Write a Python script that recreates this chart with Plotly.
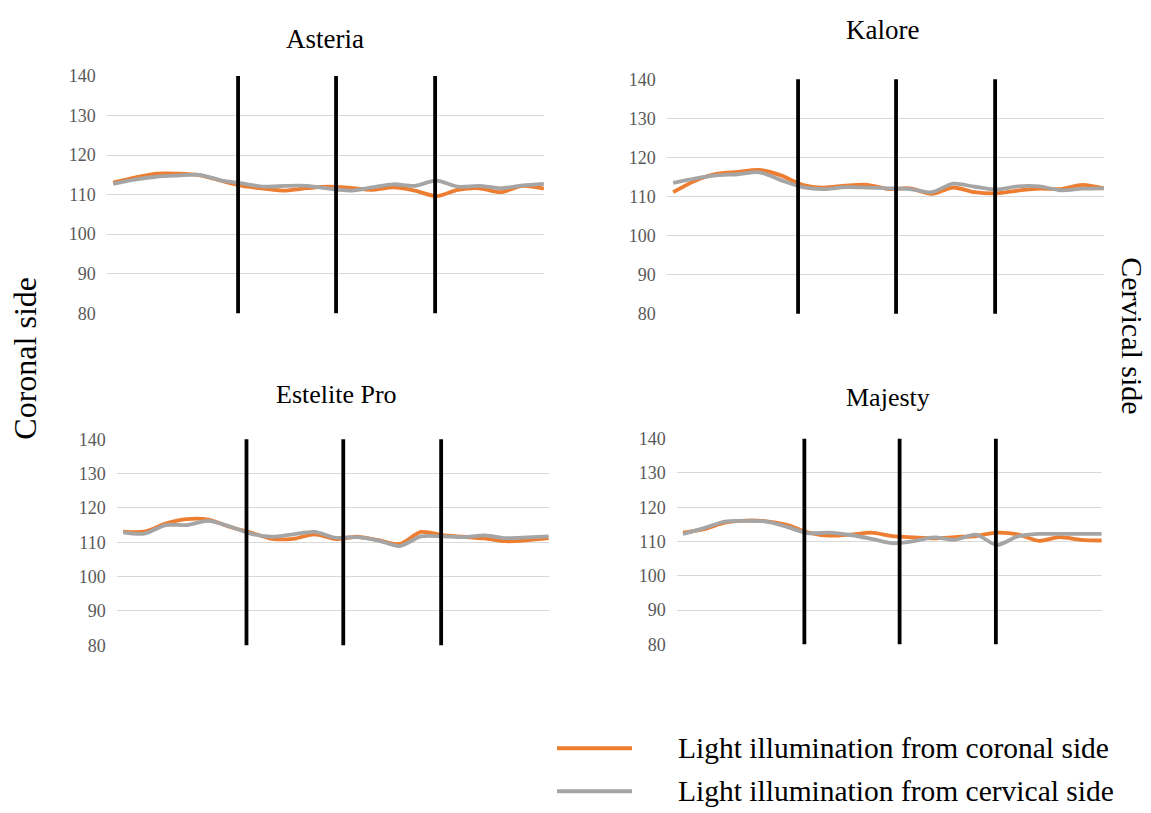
import plotly.graph_objects as go

W, H = 1151, 813

# ---- data ----
positions = list(range(21))  # measurement points along the restoration
boundaries = [5.8, 10.35, 14.95]  # black dividing lines (in position units)
y_ticks = [80, 90, 100, 110, 120, 130, 140]

materials = ["Asteria", "Kalore", "Estelite Pro", "Majesty"]

asteria_coronal = [113.0, 114.3, 115.3, 115.3, 114.9, 113.5, 112.2, 111.5, 111.0, 111.6, 112.0,
                   111.7, 111.2, 111.8, 111.0, 109.6, 111.2, 111.6, 110.6, 112.2, 111.5]
asteria_cervical = [112.7, 113.8, 114.5, 114.8, 115.0, 113.6, 112.8, 112.0, 112.2, 112.2, 111.5,
                    111.0, 111.8, 112.6, 112.2, 113.5, 112.0, 112.2, 111.6, 112.3, 112.7]

kalore_coronal = [111.1, 114.0, 115.8, 116.3, 116.8, 115.4, 113.0, 112.3, 112.8, 113.0, 111.9,
                  112.1, 110.7, 112.3, 111.1, 110.8, 111.5, 112.0, 111.9, 113.0, 112.1]
kalore_cervical = [113.5, 114.6, 115.4, 115.7, 116.2, 114.2, 112.4, 111.9, 112.4, 112.3, 112.1,
                   111.9, 111.1, 113.3, 112.5, 111.8, 112.6, 112.6, 111.6, 112.0, 112.1]

estelite_coronal = [113.1, 113.1, 115.4, 116.7, 116.6, 114.5, 112.8, 111.0, 111.0, 112.3, 110.9,
                    111.6, 110.6, 109.5, 113.0, 112.1, 111.6, 111.1, 110.3, 110.6, 111.2]
estelite_cervical = [112.9, 112.5, 115.0, 115.0, 116.2, 114.6, 112.5, 111.6, 112.3, 113.0, 111.3,
                     111.5, 110.5, 108.9, 111.7, 111.7, 111.5, 112.0, 111.2, 111.4, 111.7]

majesty_coronal = [112.6, 113.6, 115.5, 116.1, 115.9, 114.8, 112.6, 111.7, 112.0, 112.6, 111.6,
                   111.2, 110.9, 111.3, 111.6, 112.6, 112.1, 110.2, 111.3, 110.5, 110.3]
majesty_cervical = [112.2, 113.9, 115.8, 116.0, 115.8, 114.2, 112.4, 112.6, 111.9, 110.8, 109.5,
                    110.1, 111.2, 110.5, 112.0, 109.0, 111.5, 112.2, 112.2, 112.2, 112.2]

series_names = ["Light illumination from coronal side", "Light illumination from cervical side"]
colors = ["#ED7D31", "#A5A5A5"]

coronal = [asteria_coronal, kalore_coronal, estelite_coronal, majesty_coronal]
cervical = [asteria_cervical, kalore_cervical, estelite_cervical, majesty_cervical]

# ---- layout: pixel boxes (left, right, y of 140 line, y of 80 line) ----
boxes = [
    (106.7, 544.3, 68.5, 311.5),
    (666.7, 1104.3, 72.0, 312.0),
    (116.7, 549.0, 440.5, 651.5),
    (676.7, 1102.0, 440.0, 650.5),
]
title_pos = [(325, 31), (882, 21), (336, 395), (888, 398)]
title_size = [27, 27, 26, 26]

SERIF = "Liberation Serif"
PAD = 0.2  # axis padding in data units beyond 80..140

fig = go.Figure()

for i in range(4):
    xa = "x" if i == 0 else f"x{i+1}"
    ya = "y" if i == 0 else f"y{i+1}"
    for vals, name, col in zip([coronal[i], cervical[i]], series_names, colors):
        fig.add_trace(go.Scatter(
            x=positions, y=vals, mode="lines", name=name,
            line=dict(color=col, width=3.8, shape="spline", smoothing=0.8),
            xaxis=xa, yaxis=ya, showlegend=False, hoverinfo="skip"))
    l, r, t, b = boxes[i]
    k = (b - t) / 60.0
    top_px, bot_px = t - PAD * k, b + PAD * k
    xkey = "xaxis" if i == 0 else f"xaxis{i+1}"
    ykey = "yaxis" if i == 0 else f"yaxis{i+1}"
    fig.update_layout(**{
        xkey: dict(domain=[l / W, r / W], range=[-0.3, 20.02], anchor=ya,
                   showgrid=False, showticklabels=False, zeroline=False,
                   showline=False, ticks=""),
        ykey: dict(domain=[1 - bot_px / H, 1 - top_px / H], range=[80 - PAD, 140 + PAD],
                   anchor=xa, tickvals=y_ticks, showgrid=True, gridcolor="#D9D9D9",
                   gridwidth=1, zeroline=False, showline=False, ticks="",
                   ticklabelstandoff=10,
                   tickfont=dict(family=SERIF, size=18, color="#595959")),
    })
    for bx in boundaries:
        fig.add_shape(type="line", xref=xa, yref=ya, x0=bx, x1=bx, y0=80, y1=140,
                      line=dict(color="black", width=3.8), layer="above")
    tx, ty = title_pos[i]
    fig.add_annotation(x=tx / W, y=1 - ty / H, xref="paper", yref="paper",
                       text=materials[i], showarrow=False,
                       font=dict(family=SERIF, size=title_size[i], color="black"),
                       xanchor="center", yanchor="middle")

# side labels
fig.add_annotation(x=25 / W, y=1 - 358 / H, xref="paper", yref="paper", text="Coronal side",
                   textangle=-90, showarrow=False, xanchor="center", yanchor="middle",
                   font=dict(family=SERIF, size=32, color="black"))
fig.add_annotation(x=1133 / W, y=1 - 334 / H, xref="paper", yref="paper", text="Cervical side",
                   textangle=90, showarrow=False, xanchor="center", yanchor="middle",
                   borderpad=0,
                   font=dict(family=SERIF, size=30, color="black"))

# manual legend
legend_y = [757, 801]
for name, col, ly in zip(series_names, colors, legend_y):
    fig.add_shape(type="line", xref="paper", yref="paper",
                  x0=557 / W, x1=632 / W, y0=1 - ly / H, y1=1 - ly / H,
                  line=dict(color=col, width=4))
    fig.add_annotation(x=676 / W, y=1 - ly / H, xref="paper", yref="paper", text=name,
                       showarrow=False, xanchor="left", yanchor="middle",
                       font=dict(family=SERIF, size=29.5, color="black"))

fig.update_layout(width=W, height=H, margin=dict(l=0, r=0, t=0, b=0),
                  font=dict(family=SERIF),
                  paper_bgcolor="white", plot_bgcolor="white", showlegend=False)

fig.write_html("out.html")
